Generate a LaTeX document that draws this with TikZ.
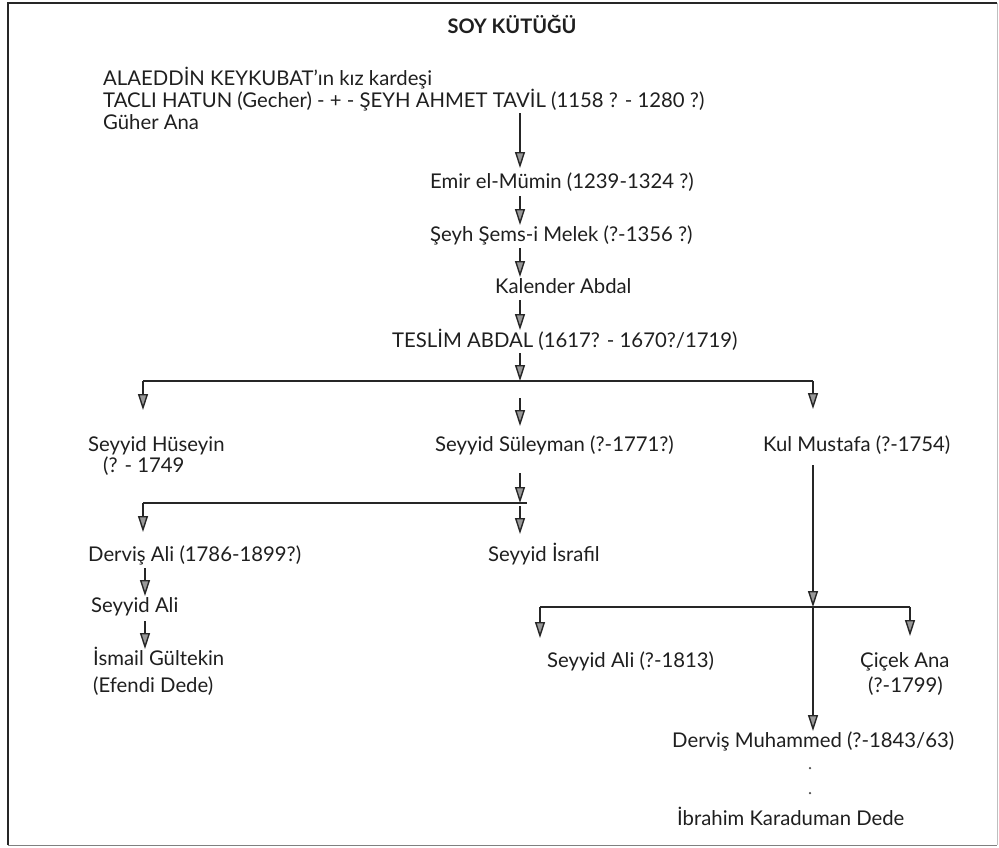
\documentclass[tikz,border=0pt]{standalone}
\usepackage{fontspec}
\setmainfont{Lato}
\usetikzlibrary{arrows.meta}
\begin{document}
\begin{tikzpicture}[x=1pt,y=-1pt,
  lbl/.style={inner sep=0pt, anchor=west, text height=14pt, text depth=4pt, font=\fontsize{20.3}{24}\selectfont, text=black!88},
  ttl/.style={inner sep=0pt, anchor=center, font=\bfseries\fontsize{20}{24}\selectfont, text=black!88},
  arr/.style={line width=1.8pt, draw=black!85, -{Triangle[width=10pt,length=16pt,fill=black!40,line width=1.4pt]}},
  hline/.style={line width=2pt, draw=black!85},
  dot/.style={circle, fill=black!70, inner sep=0pt, minimum size=2.5pt},
]
\useasboundingbox (0,0) rectangle (999,847);
\fill[white] (0,0) rectangle (999,847);
% frame
\draw[line width=2.5pt, black!85] (8,845) -- (8,3) -- (997,3);
\draw[line width=1pt, black!50] (8,845) -- (997,845);
\draw[line width=0.6pt, black!25] (997,3) -- (997,845);

% texts
\node[ttl] (title) at (512,24) {SOY KÜTÜĞÜ};
\node[lbl] (alaeddin) at (103,80) {ALAEDDİN KEYKUBAT’ın kız kardeşi};
\node[lbl] (tacli) at (103,102) {TACLI HATUN (Gecher) - + - ŞEYH AHMET TAVİL (1158 ? - 1280 ?)};
\node[lbl] (guher) at (103,124) {Güher Ana};
\node[lbl] (emir) at (430,183) {Emir el-Mümin (1239-1324 ?)};
\node[lbl] (seyh) at (430,236) {Şeyh Şems-i Melek (?-1356 ?)};
\node[lbl] (kalender) at (495,288) {Kalender Abdal};
\node[lbl] (teslim) at (392,342) {TESLİM ABDAL (1617? - 1670?/1719)};
\node[lbl] (huseyin) at (88,446) {Seyyid Hüseyin};
\node[lbl] (huseyind) at (103,467) {(? - 1749};
\node[lbl] (suleyman) at (435,446) {Seyyid Süleyman (?-1771?)};
\node[lbl] (kul) at (763,446) {Kul Mustafa (?-1754)};
\node[lbl] (dervisali) at (88,556) {Derviş Ali (1786-1899?)};
\node[lbl] (israfil) at (488,556) {Seyyid İsrafil};
\node[lbl] (seyyidali) at (91,607) {Seyyid Ali};
\node[lbl] (ismail) at (93,660) {İsmail Gültekin};
\node[lbl] (efendi) at (93,687) {(Efendi Dede)};
\node[lbl] (seyyidali2) at (547,662) {Seyyid Ali (?-1813)};
\node[lbl] (cicek) at (860,662) {Çiçek Ana};
\node[lbl] (cicekd) at (868,687) {(?-1799)};
\node[lbl] (dervism) at (672,742) {Derviş Muhammed (?-1843/63)};
\node[lbl] (ibrahim) at (677,820) {İbrahim Karaduman Dede};
\node[dot] (d1) at (810,768) {};
\node[dot] (d2) at (810,793) {};

% main column
\coordinate (a1s) at (520,113); \coordinate (a1e) at (520,168);
\coordinate (a2s) at (520,196); \coordinate (a2e) at (520,225);
\coordinate (a3s) at (520,248); \coordinate (a3e) at (520,277);
\coordinate (a4s) at (520,300); \coordinate (a4e) at (520,330);
\coordinate (a5s) at (520,353); \coordinate (a5e) at (520,381);
\draw[arr] (a1s) -- (a1e);
\draw[arr] (a2s) -- (a2e);
\draw[arr] (a3s) -- (a3e);
\draw[arr] (a4s) -- (a4e);
\draw[arr] (a5s) -- (a5e);

% first branch
\coordinate (b1l) at (143,381); \coordinate (b1r) at (813,381);
\coordinate (b1le) at (143,410); \coordinate (b1re) at (813,409);
\draw[hline] (b1l) -- (b1r);
\draw[arr] (b1l) -- (b1le);
\draw[arr] (b1r) -- (b1re);
\coordinate (b1ms) at (520,398); \coordinate (b1me) at (520,426);
\draw[arr] (b1ms) -- (b1me);

% second branch (under Süleyman)
\coordinate (s1s) at (520,473); \coordinate (s1e) at (520,503);
\draw[arr] (s1s) -- (s1e);
\coordinate (b2l) at (143,503); \coordinate (b2r) at (527,503);
\draw[hline] (b2l) -- (b2r);
\coordinate (b2le) at (143,532); \coordinate (b2ms) at (520,506); \coordinate (b2me) at (520,534);
\draw[arr] (b2l) -- (b2le);
\draw[arr] (b2ms) -- (b2me);

% left column
\coordinate (l1s) at (145,568); \coordinate (l1e) at (145,596);
\coordinate (l2s) at (145,621); \coordinate (l2e) at (145,649);
\draw[arr] (l1s) -- (l1e);
\draw[arr] (l2s) -- (l2e);

% Kul Mustafa branch
\coordinate (k1s) at (813,465); \coordinate (k1e) at (813,607);
\draw[arr] (k1s) -- (k1e);
\coordinate (b3l) at (540,607); \coordinate (b3r) at (910,607);
\draw[hline] (b3l) -- (b3r);
\coordinate (b3le) at (540,638); \coordinate (b3re) at (910,636);
\draw[arr] (b3l) -- (b3le);
\draw[arr] (b3r) -- (b3re);
\coordinate (b3me) at (813,731);
\draw[arr] (k1e) -- (b3me);
\end{tikzpicture}
\end{document}
